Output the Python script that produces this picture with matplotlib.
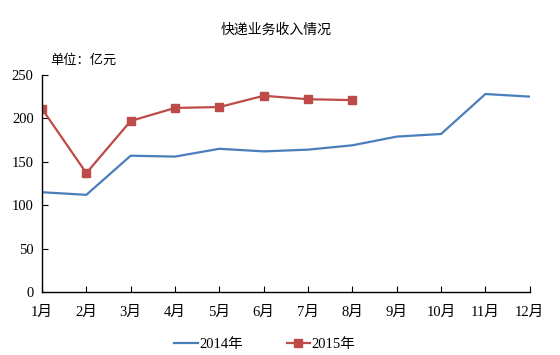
import matplotlib.pyplot as plt

# data
months = ['1月', '2月', '3月', '4月', '5月', '6月', '7月', '8月', '9月', '10月', '11月', '12月']
rev_2014 = [115, 112, 157, 156, 165, 162, 164, 169, 179, 182, 228, 225]
rev_2015 = [211, 137, 197, 212, 213, 226, 222, 221]

plt.rcParams['font.family'] = ['Liberation Serif', 'Noto Sans CJK SC']

fig = plt.figure(figsize=(5.6, 3.55), dpi=100)
ax = fig.add_axes([0.075, 0.177, 0.871, 0.612])

x = range(len(months))
ax.plot(x, rev_2014, color='#4a7ebb', lw=1.6, label='2014年')
ax.plot(range(len(rev_2015)), rev_2015, color='#be4b48', lw=1.6,
        marker='s', markersize=6, label='2015年')

ax.set_xlim(0, 11)
ax.set_ylim(0, 250)
ax.set_yticks([0, 50, 100, 150, 200, 250])
ax.set_xticks(list(x))
ax.set_xticklabels(months)
ax.tick_params(direction='in', length=4, labelsize=10.5, pad=6)
ax.tick_params(axis='x', pad=10)
for s in ['top', 'right']:
    ax.spines[s].set_visible(False)
ax.spines['left'].set_linewidth(1.0)
ax.spines['bottom'].set_linewidth(1.0)

fig.text(0.493, 0.915, '快递业务收入情况', ha='center', va='center',
         fontsize=10, family=['Noto Sans CJK SC'])
fig.text(0.089, 0.83, '单位：亿元', ha='left', va='center',
         fontsize=9.5, family=['Noto Sans CJK SC'])

ax.legend(loc='upper center', bbox_to_anchor=(0.457, -0.15), ncol=2,
          frameon=False, fontsize=10.5, handlelength=1.6, columnspacing=3.0,
          handletextpad=0.1)

fig.savefig('out.png', dpi=100)
